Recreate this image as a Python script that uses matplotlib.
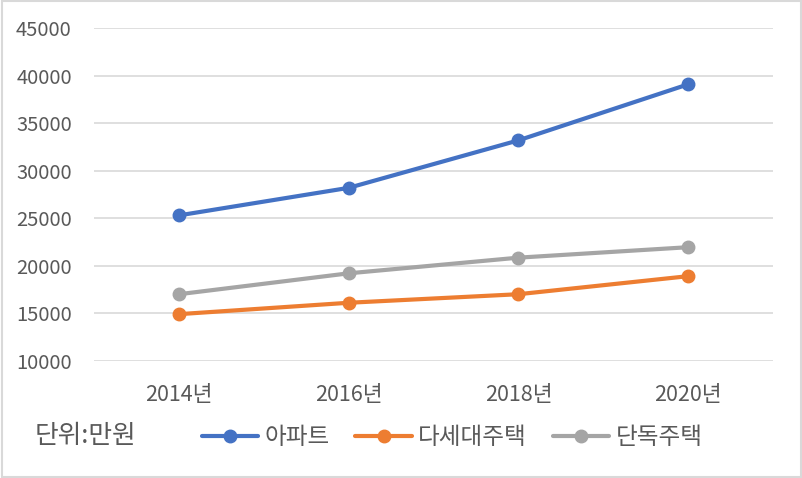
import matplotlib.pyplot as plt
from matplotlib.patches import Rectangle

plt.rcParams['font.family'] = ['Noto Sans CJK KR', 'DejaVu Sans']

# data (단위: 만원)
years = ['2014년', '2016년', '2018년', '2020년']
apt = [25300, 28200, 33200, 39100]
multi = [14900, 16100, 17000, 18900]
house = [17000, 19200, 20850, 21950]

series = [('아파트', apt, '#4472C4'),
          ('다세대주택', multi, '#ED7D31'),
          ('단독주택', house, '#A5A5A5')]

fig = plt.figure(figsize=(8.03, 4.78), dpi=100)
ax = fig.add_axes([94/803, 1-360.7/478, (773-94)/803, (360.7-28.3)/478])

x = range(len(years))
for name, vals, col in series:
    ax.plot(x, vals, color=col, lw=3, marker='o', ms=9, label=name,
            solid_capstyle='round', zorder=3)

ax.set_xlim(-0.5, 3.5)
ax.set_ylim(10000, 45000)
ax.set_yticks(range(10000, 45001, 5000))
ax.set_xticks(list(x))
ax.set_xticklabels(years)
ax.grid(axis='y', color='#D9D9D9', lw=1.2)
ax.set_axisbelow(True)
for s in ax.spines.values():
    s.set_visible(False)
ax.tick_params(length=0, labelcolor='#595959')
ax.tick_params(axis='y', pad=16, labelsize=14.5)
ax.tick_params(axis='x', pad=17, labelsize=15.5)

fig.text(35/803, 1-436/478, '단위:만원', fontsize=18.5, color='#595959',
         va='center', ha='left')
fig.legend(loc='center', bbox_to_anchor=(452/803, 1-438/478), ncol=3,
           frameon=False, fontsize=17, handlelength=2.4, columnspacing=1.1,
           handletextpad=0.25, labelcolor='#595959')

fig.add_artist(Rectangle((0.002, 0.003), 0.995, 0.994, transform=fig.transFigure,
                         fill=False, ec='#D9D9D9', lw=1.5))

fig.savefig('out.png', dpi=100)
